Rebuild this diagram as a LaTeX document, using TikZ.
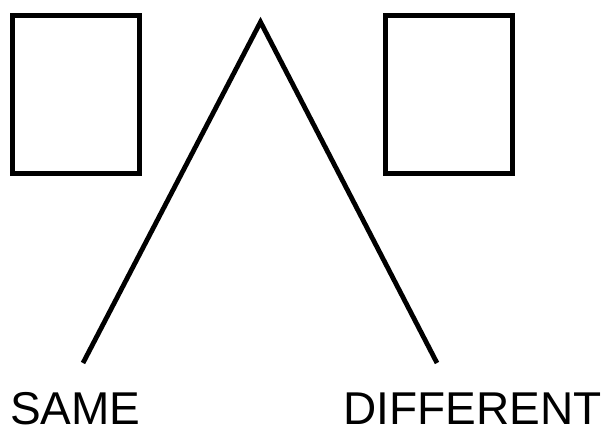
\documentclass[tikz,border=0pt]{standalone}
\usepackage{fontspec}
\setmainfont{Liberation Sans}
\usetikzlibrary{positioning}

\begin{document}
\begin{tikzpicture}[
                x=1pt, y=-1pt,
                card/.style={rectangle, draw, line width=5pt, inner sep=0pt,
                             minimum width=127pt, minimum height=157.5pt},
                word/.style={inner sep=0pt, anchor=base west,
                             font=\fontsize{46}{50}\selectfont},
                branch/.style={line width=4.8pt}
            ]
            \useasboundingbox (0,0) rectangle (607,428);

            \node[card] (leftcard) at (76,94.75) {};
            \node[card] (rightcard) at (448.5,94.75) {};

            \coordinate (apex) at (260.5,22);
            \coordinate (sameend) at (83,363);
            \coordinate (diffend) at (437,363);

            \node[word] (same) at (10,424.5) {SAME};
            \node[word] (different) at (343.5,424.5) {DIFFERENT};

            \draw[branch] (sameend) -- (apex) -- (diffend);

        \end{tikzpicture}
\end{document}
